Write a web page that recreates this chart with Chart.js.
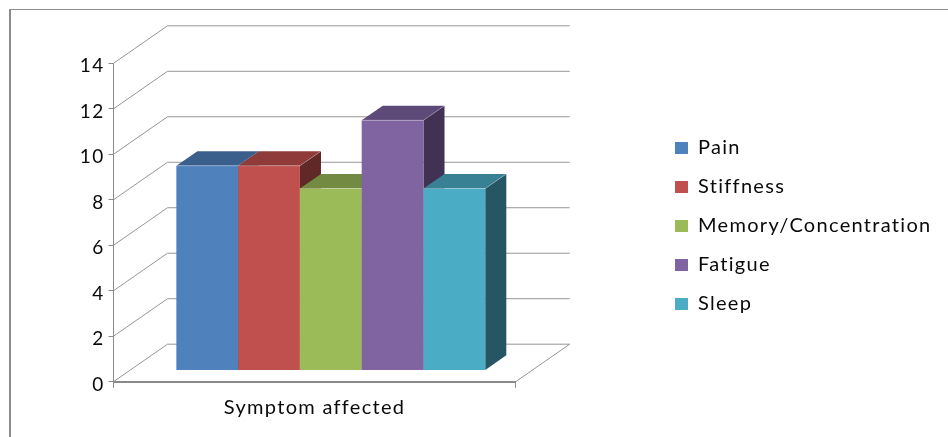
<!DOCTYPE html>
<html>
<head>
<meta charset="utf-8">
<title>Symptom affected</title>
<script src="https://cdn.jsdelivr.net/npm/chart.js@4"></script>
<style>
    html, body { margin: 0; padding: 0; background: #fff; }
    #wrap { position: relative; width: 948px; height: 437px; overflow: hidden; }
    #frame {
        position: absolute; left: 9px; top: 9px; right: -4px; bottom: -4px;
        border: solid #8c8c8c; border-width: 1px 0 0 2px;
    }
    #chart { position: absolute; left: 0; top: 0; }
</style>
</head>
<body>
<div id="wrap">
    <div id="frame"></div>
    <canvas id="chart" width="948" height="437"></canvas>
</div>
<script>
const categories = ['Symptom affected'];
const seriesNames = ['Pain', 'Stiffness', 'Memory/Concentration', 'Fatigue', 'Sleep'];
const seriesValues = [9, 9, 8, 11, 8];
const tickLabels = [0, 2, 4, 6, 8, 10, 12, 14];

const frontColors = ['#4f81bd', '#c0504d', '#9bbb59', '#8064a2', '#4bacc6'];
const topColors = ['#3a5f8c', '#8e3b39', '#728a42', '#5e4a78', '#388093'];
const sideColors = ['#274060', '#602826', '#4e5e2d', '#413152', '#265663'];

// depth of the box the chart sits in
const wallDx = 54;
const wallDy = 37.5;
// bars sit this far into the box and are this deep (fractions of the box depth)
const barStart = 0.3;
const barDepth = 0.39;

const gridColor = '#969696';
const axisColor = '#8a8a8a';
const textColor = '#0a0a0a';

function fillFace(ctx, color, pts) {
    ctx.fillStyle = color;
    ctx.beginPath();
    pts.forEach((p, i) => i ? ctx.lineTo(p[0], p[1]) : ctx.moveTo(p[0], p[1]));
    ctx.closePath();
    ctx.fill();
}

function strokeLine(ctx, color, width, x1, y1, x2, y2) {
    ctx.strokeStyle = color;
    ctx.lineWidth = width;
    ctx.beginPath();
    ctx.moveTo(x1, y1);
    ctx.lineTo(x2, y2);
    ctx.stroke();
}

const box3d = {
    id: 'box3d',
    // the legend goes in the free space right of the box
    afterLayout(chart) {
        const legend = chart.legend;
        const h = legend.height;
        legend.left = 675 - legend.options.labels.padding;
        legend.right = chart.width;
        legend.top = 119;
        legend.bottom = legend.top + h;
    },
    beforeDraw(chart) {
        chart.ctx.letterSpacing = '1.3px';
    },
    // side wall and floor, one rear line per y tick
    beforeDatasetsDraw(chart) {
        const ctx = chart.ctx;
        const y = chart.scales.y;
        const area = chart.chartArea;
        ctx.save();
        tickLabels.forEach(v => {
            const py = y.getPixelForValue(v);
            strokeLine(ctx, gridColor, 1, area.left, py, area.left + wallDx, py - wallDy);
            strokeLine(ctx, gridColor, 1, area.left + wallDx, py - wallDy, area.right + wallDx, py - wallDy);
        });
        const floor = y.getPixelForValue(0);
        strokeLine(ctx, gridColor, 1, area.right, floor, area.right + wallDx, floor - wallDy);
        ctx.restore();
    },
    // default bar drawing is replaced below so the series stack left to right
    beforeDatasetDraw() {
        return false;
    },
    afterDatasetsDraw(chart) {
        const ctx = chart.ctx;
        const dx = wallDx * barDepth;
        const dy = wallDy * barDepth;
        chart.data.datasets.forEach((ds, i) => {
            const bar = chart.getDatasetMeta(i).data[0];
            const left = bar.x - bar.width / 2;
            const right = bar.x + bar.width / 2;
            ctx.save();
            ctx.translate(wallDx * barStart, -wallDy * barStart);
            fillFace(ctx, sideColors[i], [[right, bar.y], [right + dx, bar.y - dy], [right + dx, bar.base - dy], [right, bar.base]]);
            fillFace(ctx, topColors[i], [[left, bar.y], [left + dx, bar.y - dy], [right + dx, bar.y - dy], [right, bar.y]]);
            bar.draw(ctx);
            // light edges on the front and outer corners
            strokeLine(ctx, 'rgba(255,255,255,0.28)', 1, left, bar.y, right, bar.y);
            strokeLine(ctx, 'rgba(255,255,255,0.22)', 1, right, bar.y, right + dx, bar.y - dy);
            ctx.restore();
        });
    }
};

const ctx = document.getElementById('chart').getContext('2d');
new Chart(ctx, {
    type: 'bar',
    data: {
        labels: categories,
        datasets: seriesNames.map((name, i) => ({
            label: name,
            data: [seriesValues[i]],
            backgroundColor: frontColors[i],
            borderWidth: 0,
            clip: false
        }))
    },
    options: {
        responsive: false,
        animation: false,
        events: [],
        categoryPercentage: 0.768,
        barPercentage: 1,
        layout: { padding: { left: 0, top: 63.3, right: 432.3, bottom: 0 } },
        plugins: {
            title: { display: false },
            tooltip: { enabled: false },
            legend: {
                position: 'chartArea',
                align: 'start',
                labels: {
                    boxWidth: 13,
                    boxHeight: 12,
                    padding: 19,
                    color: textColor,
                    font: { family: 'Lato', size: 20 }
                }
            }
        },
        scales: {
            x: {
                afterFit(scale) { scale.height = 55.3; },
                border: { color: axisColor, width: 2 },
                grid: { drawOnChartArea: false, color: axisColor, tickLength: 6 },
                ticks: {
                    padding: 8,
                    maxRotation: 0,
                    color: textColor,
                    font: { family: 'Lato', size: 20 }
                }
            },
            y: {
                min: 0,
                max: 14,
                afterFit(scale) { scale.width = 113.5; },
                afterBuildTicks(scale) { scale.ticks = tickLabels.map(v => ({ value: v })); },
                border: { color: axisColor, width: 1 },
                grid: { drawOnChartArea: false, color: axisColor, tickLength: 5 },
                ticks: {
                    padding: 4,
                    labelOffset: 3,
                    color: textColor,
                    font: { family: 'Lato', size: 19 }
                }
            }
        }
    },
    plugins: [box3d]
});
</script>
</body>
</html>
